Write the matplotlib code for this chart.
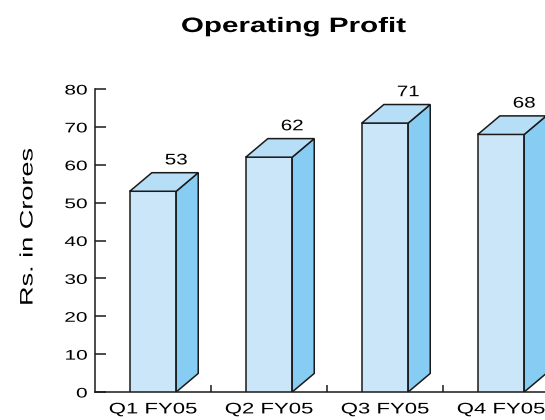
import matplotlib
matplotlib.use("Agg")
from matplotlib import pyplot as plt
from matplotlib import patheffects
from matplotlib.patches import Polygon
from matplotlib.transforms import Affine2D

quarters = ["Q1 FY05", "Q2 FY05", "Q3 FY05", "Q4 FY05"]
profit = [53, 62, 71, 68]
y_ticks = [0, 10, 20, 30, 40, 50, 60, 70, 80]

front_col = "#cbe6f8"
side_col = "#86ccf3"
top_col = "#b6def6"
edge_col = "#1a1a1a"


# the original uses a wide sans font, so stretch glyphs along the baseline
class Wide(patheffects.AbstractPathEffect):
    def __init__(self, sx=1.45, anchor="center"):
        super().__init__()
        self.sx = sx
        self.anchor = anchor

    def draw_path(self, renderer, gc, tpath, affine, rgbFace=None):
        ext = tpath.get_extents()
        if self.anchor == "right":
            x0 = ext.x1
        elif self.anchor == "left":
            x0 = ext.x0
        else:
            x0 = (ext.x0 + ext.x1) / 2
        t = Affine2D().translate(-x0, 0).scale(self.sx, 1).translate(x0, 0) + affine
        renderer.draw_path(gc, tpath, t, rgbFace)


plt.rcParams["font.family"] = ["Liberation Sans", "DejaVu Sans"]

fig = plt.figure(figsize=(5.45, 4.2), dpi=100, facecolor="white")
ax = fig.add_axes([95 / 545, 28 / 420, 464 / 545, 303 / 420])

half = 0.2      # half width of the front face
dx = 0.19       # depth in x (category units)
dy = 4.9        # depth in y (data units)

ax.bar(range(len(profit)), profit, width=2 * half, color=front_col,
       edgecolor=edge_col, linewidth=1.1, zorder=3)
for i, v in enumerate(profit):
    side = Polygon([(i + half, 0), (i + half + dx, dy), (i + half + dx, v + dy), (i + half, v)],
                   closed=True, facecolor=side_col, edgecolor=edge_col, linewidth=1.1, zorder=3)
    top = Polygon([(i - half, v), (i + half, v), (i + half + dx, v + dy), (i - half + dx, v + dy)],
                  closed=True, facecolor=top_col, edgecolor=edge_col, linewidth=1.1, zorder=3)
    ax.add_patch(side)
    ax.add_patch(top)
    t = ax.text(i + half, v + dy + 2.2, str(v), ha="center", va="baseline", fontsize=11)
    t.set_path_effects([Wide(1.35)])

ax.set_xlim(-0.5, len(profit) - 0.5)
ax.set_ylim(0, 80)

ax.set_yticks(y_ticks)
ax.tick_params(axis="y", direction="in", length=8, width=1.1, pad=5.5, labelsize=10, color=edge_col)
ax.set_xticks(range(len(quarters)))
ax.set_xticklabels(quarters)
ax.set_xticks([i + 0.5 for i in range(len(quarters))], minor=True)
ax.tick_params(axis="x", which="major", length=0, pad=7.5, labelsize=11)
ax.tick_params(axis="x", which="minor", direction="in", length=5, width=1.1, color=edge_col)

for lbl in ax.get_yticklabels():
    lbl.set_path_effects([Wide(1.5, "right")])
for lbl in ax.get_xticklabels():
    lbl.set_path_effects([Wide(1.45)])

ax.spines["top"].set_visible(False)
ax.spines["right"].set_visible(False)
ax.spines["left"].set_linewidth(1.1)
ax.spines["bottom"].set_linewidth(1.1)
ax.spines["left"].set_color(edge_col)
ax.spines["bottom"].set_color(edge_col)

yl = fig.text(28 / 545, 1 - 227 / 420, "Rs. in Crores", rotation=90, ha="center", va="center", fontsize=13)
yl.set_path_effects([Wide(1.5)])

title = fig.text(294 / 545, 1 - 32 / 420, "Operating Profit", ha="center", va="baseline",
                 fontsize=15, fontweight="bold")
title.set_path_effects([Wide(1.42)])

fig.savefig("out.png", dpi=100)
